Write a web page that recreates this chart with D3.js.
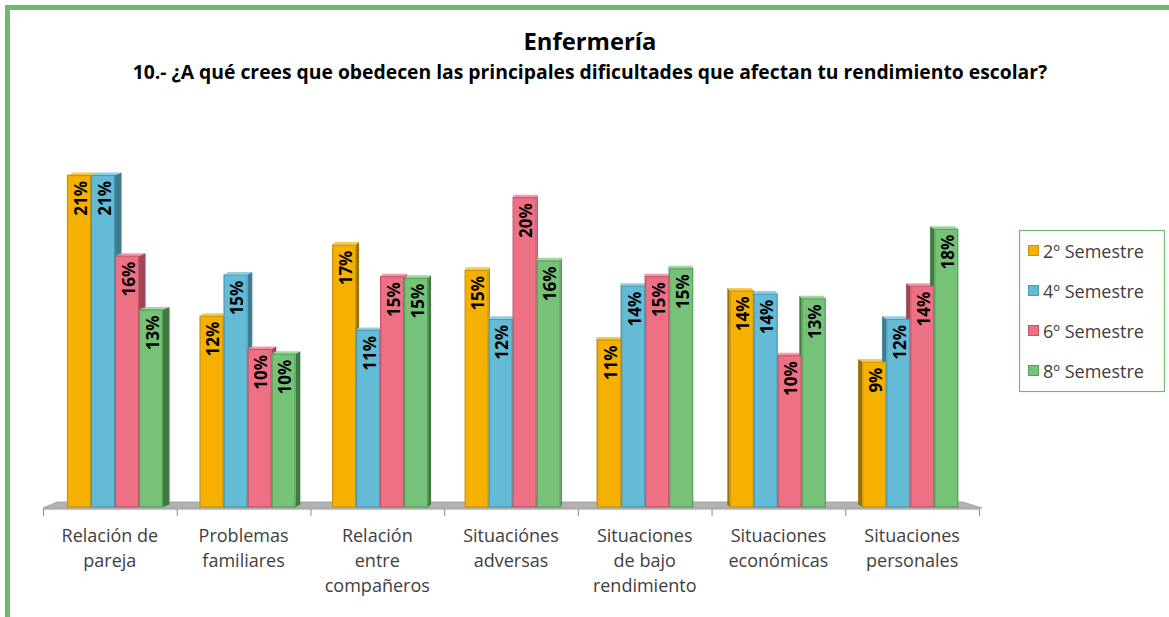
<!DOCTYPE html>
<html><head><meta charset="utf-8">
<script src="https://cdn.jsdelivr.net/npm/d3@7"></script>
<style>
html,body{margin:0;padding:0;background:#fff;}
svg{display:block;font-family:"Open Sans","Lato",sans-serif;}
</style></head>
<body><svg id="chart" width="1169" height="617"></svg>
<script>
const title = "Enfermería";
const subtitle = "10.- ¿A qué crees que obedecen las principales dificultades que afectan tu rendimiento escolar?";
const categories = [
  ["Relación de", "pareja"],
  ["Problemas", "familiares"],
  ["Relación", "entre", "compañeros"],
  ["Situaciónes", "adversas"],
  ["Situaciones", "de bajo", "rendimiento"],
  ["Situaciones", "económicas"],
  ["Situaciones", "personales"]
];
const seriesNames = ["2º Semestre", "4º Semestre", "6º Semestre", "8º Semestre"];
const sem2 = [21.0, 12.1, 16.6, 15.0, 10.6, 13.7, 9.2];
const sem4 = [21.0, 14.7, 11.2, 11.9, 14.0, 13.5, 11.9];
const sem6 = [15.9, 10.0, 14.6, 19.6, 14.6, 9.6, 14.0];
const sem8 = [12.5, 9.7, 14.5, 15.6, 15.1, 13.2, 17.6];
const seriesValues = [sem2, sem4, sem6, sem8];

const front = ["#F6B100", "#63BBD5", "#EE7085", "#77C279"];
const edge  = ["#C89312", "#4A9AB3", "#C4566A", "#559E57"];
const side  = ["#9C7000", "#3E7D91", "#A34556", "#3F7A40"];
const topc  = ["#F9C94D", "#8DD0E3", "#F39BAA", "#A0D6A1"];

const svg = d3.select("#chart");
const catIdx = categories.map((d, i) => i);

const x = d3.scaleBand().domain(catIdx).range([43, 979]).paddingInner(0).paddingOuter(0);
const inner = d3.scaleBand().domain(d3.range(4)).range([0, 96]).padding(0);
const y = d3.scaleLinear().domain([0, 21]).range([507, 175]);
const groupOffset = d3.scaleLinear().domain([x(0), x(6)]).range([24, 17]);
const vanish = 600;

function fit(sel, target, base) {
  const w = sel.node().getComputedTextLength();
  if (w > 0) sel.attr("font-size", base * target / w);
}

svg.append("rect").attr("x", 7.5).attr("y", 7.5).attr("width", 1200).attr("height", 700)
  .attr("fill", "none").attr("stroke", "#6CB96F").attr("stroke-width", 5);

const tt = svg.append("text").attr("x", 590).attr("y", 50).attr("text-anchor", "middle")
  .attr("font-size", 24).attr("font-weight", "bold").attr("fill", "#000").text(title);
fit(tt, 133, 24);
const sub = svg.append("text").attr("x", 590).attr("y", 79).attr("text-anchor", "middle")
  .attr("font-size", 17).attr("font-weight", "bold").attr("fill", "#000").text(subtitle);
fit(sub, 915, 17);

const x0 = x.range()[0], x1 = x.range()[1];
const baseY = y(0);
svg.append("polygon")
  .attr("points", [[x0, baseY + 1], [x0 + 14, baseY - 5], [x1 - 16, baseY - 5], [x1 + 3, baseY + 1]].map(p => p.join(",")).join(" "))
  .attr("fill", "#B3B3B3").attr("stroke", "#9A9A9A").attr("stroke-width", 0.8);

const axisY = baseY + 2;
svg.append("line").attr("x1", x0).attr("x2", x1 + 1).attr("y1", axisY).attr("y2", axisY)
  .attr("stroke", "#8C8C8C").attr("stroke-width", 1);
catIdx.concat([7]).forEach(i => {
  const tx = i < 7 ? x(i) : x1;
  svg.append("line").attr("x1", tx + 0.5).attr("x2", tx + 0.5).attr("y1", axisY).attr("y2", axisY + 7)
    .attr("stroke", "#8C8C8C").attr("stroke-width", 1);
});

const bars = [];
catIdx.forEach(ci => {
  const gx = x(ci) + groupOffset(x(ci));
  const gc = gx + inner.range()[1] / 2;
  const dw = (vanish - gc) * 0.0135;
  seriesValues.forEach((vals, si) => {
    const bx = gx + inner(si);
    const bw = inner.bandwidth();
    bars.push({ci, si, bx, bw, top: y(vals[ci]), v: vals[ci], dw});
  });
});
const bg = svg.append("g");
bars.forEach(b => {
  const dy = 2.5;
  const ex = b.dw > 0 ? b.bx + b.bw : b.bx;
  bg.append("polygon")
    .attr("points", [[ex, b.top], [ex + b.dw, b.top - dy], [ex + b.dw, baseY - dy], [ex, baseY]].map(p => p.join(",")).join(" "))
    .attr("fill", side[b.si]);
  bg.append("polygon")
    .attr("points", [[b.bx, b.top], [b.bx + b.dw, b.top - dy], [b.bx + b.bw + b.dw, b.top - dy], [b.bx + b.bw, b.top]].map(p => p.join(",")).join(" "))
    .attr("fill", topc[b.si]);
});
bars.forEach(b => {
  bg.append("rect").attr("x", b.bx + 0.5).attr("y", b.top + 0.5)
    .attr("width", b.bw - 1).attr("height", baseY - b.top - 0.5)
    .attr("fill", front[b.si]).attr("stroke", edge[b.si]).attr("stroke-width", 1.2);
});
bars.forEach(b => {
  const cx = b.bx + b.bw / 2 + 1;
  const ty = b.top + 6;
  bg.append("text")
    .attr("transform", `translate(${cx},${ty}) rotate(-90)`)
    .attr("text-anchor", "end").attr("dominant-baseline", "central")
    .attr("font-size", 17).attr("font-weight", "bold").attr("fill", "#000")
    .text(Math.round(b.v) + "%");
});

catIdx.forEach(ci => {
  const t = svg.append("text").attr("text-anchor", "middle")
    .attr("font-size", 18).attr("fill", "#404040");
  categories[ci].forEach((line, li) => {
    t.append("tspan").attr("x", x(ci) + x.bandwidth() / 2).attr("y", 542 + li * 25).text(line);
  });
});

const lg = svg.append("g");
lg.append("rect").attr("x", 1019.5).attr("y", 230.5).attr("width", 145).attr("height", 161)
  .attr("fill", "#fff").attr("stroke", "#72BA6F").attr("stroke-width", 1.2);
seriesNames.forEach((name, si) => {
  const cy = 251 + si * 40;
  lg.append("rect").attr("x", 1028.5).attr("y", cy - 5.5).attr("width", 10).attr("height", 10)
    .attr("fill", front[si]).attr("stroke", edge[si]).attr("stroke-width", 1);
  lg.append("text").attr("x", 1043).attr("y", cy).attr("dominant-baseline", "central")
    .attr("font-size", 18).attr("fill", "#404040").text(name);
});
</script>
</body></html>
